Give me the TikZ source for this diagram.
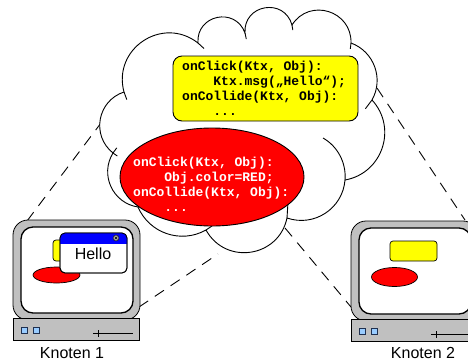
\documentclass[tikz,border=0pt]{standalone}
\usepackage{fontspec}
\setmainfont{Liberation Sans}
\newfontfamily\codefont{Liberation Mono}
\usetikzlibrary{shapes.geometric}

\definecolor{casegray}{HTML}{C0C0C0}
\definecolor{btnblue}{HTML}{99CCFF}
\definecolor{btnedge}{HTML}{1F3050}
\definecolor{codeyellow}{HTML}{FFFF00}
\definecolor{objred}{HTML}{FF0000}
\definecolor{titleblue}{HTML}{0000FF}

\begin{document}
\begin{tikzpicture}[x=1pt,y=-1pt,
  outline/.style={draw=black, line width=0.9pt},
  link/.style={draw=black, line width=0.9pt, dash pattern=on 11pt off 8pt},
  codetext/.style={inner sep=0pt, anchor=base west, font=\codefont\bfseries\fontsize{13}{15.3}\selectfont},
  label/.style={inner sep=0pt, anchor=base, font=\fontsize{16}{19}\selectfont},
  casestyle/.style={fill=casegray, draw=black, line width=0.8pt},
  btn/.style={fill=btnblue, draw=btnedge, line width=0.7pt},
  pics/monitor/.style={code={
    % housing, screen, base with buttons and slider
    \draw[casestyle, rounded corners=15pt] (0,0) rectangle (127,100);
    \draw[fill=white, draw=black, line width=1.3pt, rounded corners=12pt] (8,7) rectangle (120,93);
    \draw[casestyle] (0,98) rectangle (126,120);
    \draw[btn] (8,107) rectangle (14,113);
    \draw[btn] (20,107) rectangle (26,113);
    \draw[line width=0.6pt] (80,113) -- (120,113);
    \draw[line width=0.6pt] (85,110) -- (85,117);
  }}
]
\useasboundingbox (0,0) rectangle (468,362);
\clip (0,0) rectangle (468,362);

% connector end points
\coordinate (m1a) at (27,221);
\coordinate (m1b) at (139,307);
\coordinate (m2a) at (351,307);
\coordinate (m2b) at (465,220);
\coordinate (c1) at (101,123);
\coordinate (c2) at (218,254);
\coordinate (c3) at (285,228);
\coordinate (c4) at (377,88);

% dashed links between the nodes and the shared space
\draw[link] (m1a) -- (c1);
\draw[link] (m1b) -- (c2);
\draw[link] (c3) -- (m2a);
\draw[link] (c4) -- (m2b);

% cloud: junctions between the puffs
\coordinate (J1) at (113,153);
\coordinate (J2) at (124,92);
\coordinate (J3) at (198,43);
\coordinate (J4) at (245,33);
\coordinate (J5) at (292,25);
\coordinate (J6) at (351,43);
\coordinate (J7) at (372,100);
\coordinate (J8) at (345,180);
\coordinate (J9) at (287,218);
\coordinate (J10) at (206,230);
\coordinate (J11) at (138,207);

\path[fill=white, outline] (J1)
  .. controls +(-21.94,-17.46) and +(-26.66,8.70) .. (J2)
  .. controls +(-11.72,-43.42) and +(-35.40,-27.74) .. (J3)
  .. controls +(-2.11,-28.17) and +(-9.53,-26.59) .. (J4)
  .. controls +(-1.88,-28.75) and +(-7.74,-27.75) .. (J5)
  .. controls +(17.38,-27.46) and +(0.90,-32.48) .. (J6)
  .. controls +(23.03,8.52) and +(12.01,-21.42) .. (J7)
  .. controls +(25.73,27.97) and +(37.41,-6.65) .. (J8)
  .. controls +(-2.26,28.59) and +(27.12,9.35) .. (J9)
  .. controls +(-8.35,39.64) and +(19.49,35.52) .. (J10)
  .. controls +(-24.99,14.07) and +(11.33,26.35) .. (J11)
  .. controls +(-25.28,-3.83) and +(-13.44,21.75) .. (J1) -- cycle;

% overlapping ends of the puffs
\draw[outline] (126.8,99.6) -- (J2);
\draw[outline] (J3) -- (204,48.5);
\draw[outline] (J4) -- (246.3,39.1);
\draw[outline] (J5) -- (292.8,30.1);
\draw[outline] (J6) -- (350.3,48.8);
\draw[outline] (J7) .. controls (369.5,104.6) .. (365.4,108.7);
\draw[outline] (323,138) .. controls (337.8,146.4) and (346.4,163.0) .. (J8);
\draw[outline] (287.8,205.2) -- (J9);
\draw[outline] (212,226) -- (J10);
\draw[outline] (117.3,156) -- (J1) -- (116.8,147.8);

% behaviour shared by all nodes
\node[draw=black, line width=0.9pt, fill=codeyellow, rounded corners=9pt,
      minimum width=185pt, minimum height=65pt, inner sep=0pt] (ybox) at (265.5,88.5) {};
\node[codetext] (ycode) at (182,70) {\vtop{%
  \hbox{onClick(Ktx, Obj):}%
  \hbox{\phantom{oooo}Ktx.msg(„Hello“);}%
  \hbox{onCollide(Ktx, Obj):}%
  \hbox{\phantom{oooo}...}}};

% behaviour of the local object
\node[ellipse, draw=black, line width=0.9pt, fill=objred,
      minimum width=184pt, minimum height=98pt, inner sep=0pt] (redobj) at (212,177) {};
\node[codetext, text=white] (rcode) at (133,166) {\vtop{%
  \hbox{onClick(Ktx, Obj):}%
  \hbox{\phantom{oooo}Obj.color=RED;}%
  \hbox{onCollide(Ktx, Obj):}%
  \hbox{\phantom{oooo}...}}};

% node 1
\pic at (13,220) {monitor};
\begin{scope}[shift={(13,220)}]
  \draw[fill=codeyellow, line width=0.7pt, rounded corners=3pt] (40,20) rectangle (87,41);
  \draw[fill=objred, line width=0.7pt] (43.5,55) ellipse [x radius=23.5pt, y radius=8pt];
  \draw[fill=white, line width=0.8pt, rounded corners=5pt] (47,13) rectangle (114,53);
  \begin{scope}
    \clip (47,13) rectangle (114,23);
    \fill[titleblue, rounded corners=5pt] (47,13) rectangle (114,53);
  \end{scope}
  \draw[line width=0.8pt, rounded corners=5pt] (47,13) rectangle (114,53);
  \draw[fill=gray!60, line width=0.4pt] (103,18) circle [radius=3pt];
  \draw[line width=0.4pt] (101.6,16.6) -- (104.4,19.4) (101.6,19.4) -- (104.4,16.6);
  \node[label] (hello) at (80,39.3) {Hello};
\end{scope}
\node[label] (lbl1) at (72,358.5) {Knoten 1};

% node 2
\pic at (351,221) {monitor};
\begin{scope}[shift={(351,221)}]
  \draw[fill=codeyellow, line width=0.7pt, rounded corners=3pt] (39,20) rectangle (86,40);
  \draw[fill=objred, line width=0.7pt] (43.5,56) ellipse [x radius=23pt, y radius=9.5pt];
\end{scope}
\node[label] (lbl2) at (423,358.5) {Knoten 2};
\end{tikzpicture}
\end{document}
